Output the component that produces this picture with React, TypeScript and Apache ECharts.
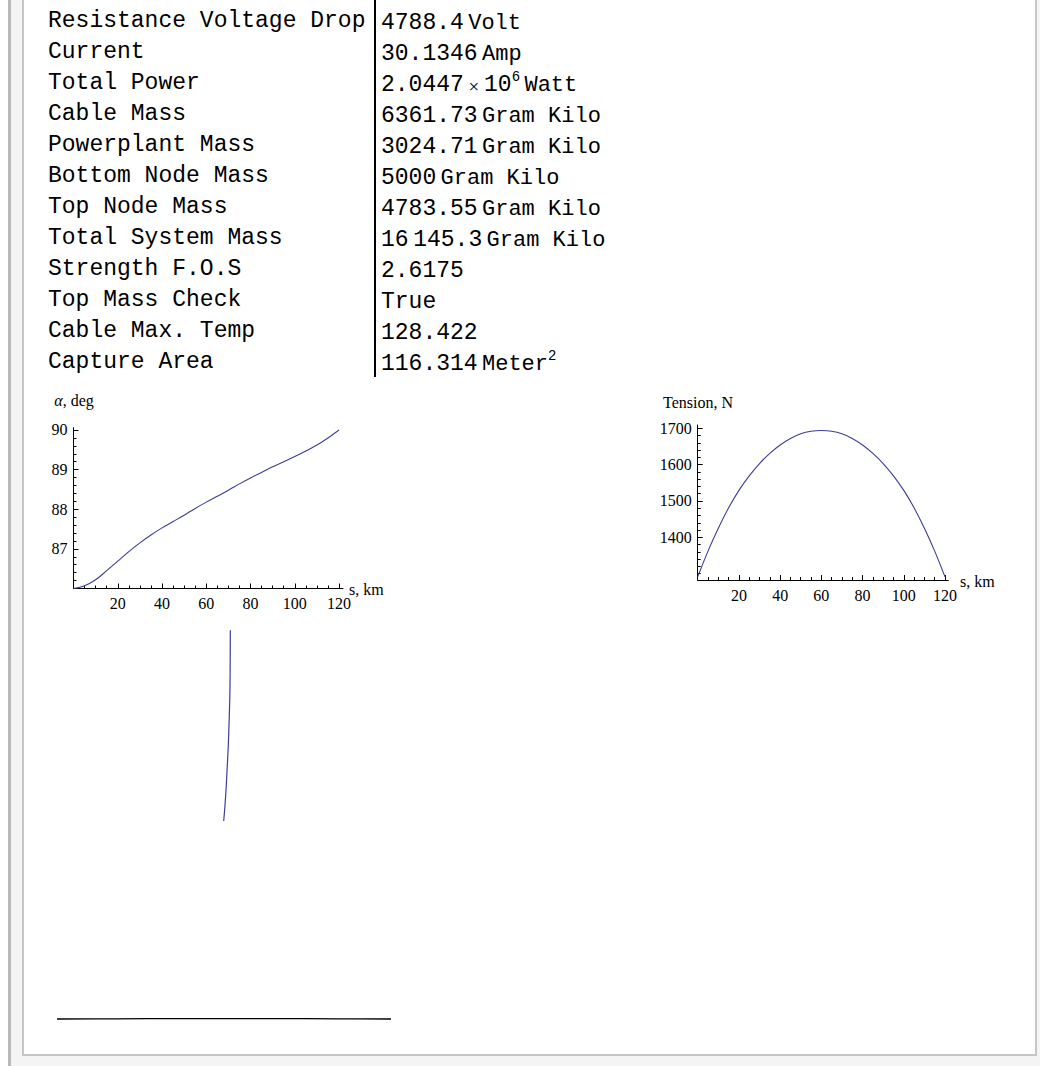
import React, { useEffect, useRef } from "react";
import * as echarts from "echarts";

// ---------- data ----------
const rowLabels = [
  "Resistance Voltage Drop",
  "Current",
  "Total Power",
  "Cable Mass",
  "Powerplant Mass",
  "Bottom Node Mass",
  "Top Node Mass",
  "Total System Mass",
  "Strength F.O.S",
  "Top Mass Check",
  "Cable Max. Temp",
  "Capture Area",
];
const rowNumbers = [
  "4788.4",
  "30.1346",
  "2.0447",
  "6361.73",
  "3024.71",
  "5000",
  "4783.55",
  "16\u2009145.3",
  "2.6175",
  "True",
  "128.422",
  "116.314",
];
const rowMantissaExp = ["", "", "6", "", "", "", "", "", "", "", "", ""];
const rowUnits = [
  "Volt",
  "Amp",
  "Watt",
  "Gram Kilo",
  "Gram Kilo",
  "Gram Kilo",
  "Gram Kilo",
  "Gram Kilo",
  "",
  "",
  "",
  "Meter",
];
const rowUnitExp = ["", "", "", "", "", "", "", "", "", "", "", "2"];

const sKm = [0, 5, 10, 15, 20, 25, 30, 35, 40, 45, 50, 55, 60, 65, 70, 75, 80, 85, 90, 95, 100, 105, 110, 115, 120];
const alphaDeg = [
  86.0, 86.07, 86.22, 86.45, 86.69, 86.93, 87.15, 87.35, 87.53, 87.69, 87.85, 88.02, 88.18,
  88.33, 88.48, 88.64, 88.79, 88.93, 89.07, 89.2, 89.33, 89.47, 89.62, 89.8, 90.0,
];
const tensionN = [
  1291, 1362, 1425, 1481, 1529, 1569, 1603, 1631, 1654, 1672, 1685, 1692, 1694,
  1692, 1685, 1672, 1654, 1631, 1603, 1569, 1529, 1481, 1425, 1362, 1291,
];

const sMajorTicks = [20, 40, 60, 80, 100, 120];
const sMinorTicks = [5, 10, 15, 25, 30, 35, 45, 50, 55, 65, 70, 75, 85, 90, 95, 105, 110, 115];
const alphaMajorTicks = [87, 88, 89, 90];
const alphaMinorTicks = [86.2, 86.4, 86.6, 86.8, 87.2, 87.4, 87.6, 87.8, 88.2, 88.4, 88.6, 88.8, 89.2, 89.4, 89.6, 89.8];
const tensionMajorTicks = [1400, 1500, 1600, 1700];
const tensionMinorTicks = [
  1300, 1320, 1340, 1360, 1380, 1420, 1440, 1460, 1480, 1520, 1540, 1560, 1580, 1620, 1640, 1660, 1680,
];

// lone unlabeled curve (unitless sample values)
const loneCurveX = [3.7, 5.0, 6.3, 7.3, 8.3, 9.0, 9.6, 10.0, 10.2, 10.3];
const loneCurveY = [0, 15.7, 35.7, 55.7, 75.7, 95.7, 115.7, 135.7, 160.7, 190.7];
// flat black curve at the bottom (unitless sample values)
const flatCurveX = [0, 60, 120, 170, 220, 280, 334];
const flatCurveY = [4.0, 4.2, 4.4, 4.45, 4.4, 4.2, 4.0];

// ---------- styles ----------
const MONO = "'Liberation Mono', 'Courier New', monospace";
const SERIF = "'Liberation Serif', 'Times New Roman', serif";
const CURVE = "#3c3c9c";
const TABLE = { labelX: 48, valueX: 381, dividerX: 375, rowY0: 21, rowStep: 31, fontSize: 23 };
const TICK_FONT = 16;

function zip(a: number[], b: number[]) {
  return a.map((v, i) => [v, b[i]]);
}

function majorAxis(gridIndex: number, min: number, max: number, ticks: number[], isX: boolean) {
  return {
    type: "value",
    gridIndex,
    min,
    max,
    position: isX ? "bottom" : "left",
    axisLine: { show: true, onZero: false, lineStyle: { color: "#000", width: 1 } },
    axisTick: { show: true, inside: true, length: 5, customValues: ticks, lineStyle: { color: "#000", width: 1 } },
    axisLabel: {
      show: true,
      customValues: ticks,
      color: "#000",
      fontFamily: SERIF,
      fontSize: TICK_FONT,
      margin: isX ? 7 : 6,
      formatter: (v: number) => String(v),
    },
    splitLine: { show: false },
  };
}
function minorAxis(gridIndex: number, min: number, max: number, ticks: number[], isX: boolean) {
  return {
    type: "value",
    gridIndex,
    min,
    max,
    position: isX ? "bottom" : "left",
    axisLine: { show: false, onZero: false },
    axisTick: { show: true, inside: true, length: 3, customValues: ticks, lineStyle: { color: "#000", width: 1 } },
    axisLabel: { show: false },
    splitLine: { show: false },
  };
}
function hiddenAxis(gridIndex: number, min: number, max: number) {
  return {
    type: "value",
    gridIndex,
    min,
    max,
    show: false,
    axisLine: { show: false },
    axisTick: { show: false },
    axisLabel: { show: false },
    splitLine: { show: false },
  };
}

export default function App() {
  const ref = useRef<HTMLDivElement>(null);
  useEffect(() => {
    document.body.style.margin = "0";
    if (!ref.current) return;
    const chart = echarts.init(ref.current, undefined, { renderer: "svg" });

    const tableGraphics: any[] = [];
    rowLabels.forEach((t, i) => {
      tableGraphics.push({
        type: "text",
        x: TABLE.labelX,
        y: TABLE.rowY0 + i * TABLE.rowStep,
        style: { text: t, font: `${TABLE.fontSize}px ${MONO}`, fill: "#000", verticalAlign: "middle" },
      });
      let rich = `{m|${rowNumbers[i]}}`;
      if (rowMantissaExp[i]) rich += `{x| \u00d7 }{m|10}{s|${rowMantissaExp[i]}}`;
      if (rowUnits[i]) rich += `{u|\u2009${rowUnits[i]}}`;
      if (rowUnitExp[i]) rich += `{s|${rowUnitExp[i]}}`;
      tableGraphics.push({
        type: "text",
        x: TABLE.valueX,
        y: TABLE.rowY0 + i * TABLE.rowStep,
        style: {
          text: rich,
          verticalAlign: "middle",
          rich: {
            m: { fontFamily: MONO, fontSize: TABLE.fontSize, color: "#000", lineHeight: 26, verticalAlign: "bottom" },
            u: { fontFamily: MONO, fontSize: TABLE.fontSize - 1, color: "#000", lineHeight: 26, verticalAlign: "bottom" },
            x: { fontFamily: SERIF, fontSize: TABLE.fontSize - 4, color: "#000", lineHeight: 26, verticalAlign: "bottom" },
            s: { fontFamily: MONO, fontSize: 14, color: "#000", lineHeight: 14, verticalAlign: "top" },
          },
        },
      });
    });
    tableGraphics.push({
      type: "line",
      shape: {
        x1: TABLE.dividerX,
        y1: 0,
        x2: TABLE.dividerX,
        y2: TABLE.rowY0 + (rowLabels.length - 1) * TABLE.rowStep + 15,
      },
      style: { stroke: "#000", lineWidth: 2 },
    });

    const axisLabels: any[] = [
      {
        type: "text",
        x: 74,
        y: 400,
        style: {
          text: "{i|\u03b1}{n|, deg}",
          align: "center",
          verticalAlign: "middle",
          rich: {
            i: { fontFamily: SERIF, fontStyle: "italic", fontSize: TICK_FONT, color: "#000" },
            n: { fontFamily: SERIF, fontSize: TICK_FONT, color: "#000" },
          },
        },
      },
      {
        type: "text",
        x: 698,
        y: 402,
        style: { text: "Tension, N", font: `${TICK_FONT}px ${SERIF}`, fill: "#000", align: "center", verticalAlign: "middle" },
      },
      {
        type: "text",
        x: 349,
        y: 589,
        style: { text: "s, km", font: `${TICK_FONT}px ${SERIF}`, fill: "#000", verticalAlign: "middle" },
      },
      {
        type: "text",
        x: 960,
        y: 581,
        style: { text: "s, km", font: `${TICK_FONT}px ${SERIF}`, fill: "#000", verticalAlign: "middle" },
      },
    ];

    chart.setOption({
      animation: false,
      backgroundColor: "transparent",
      grid: [
        { left: 73.5, top: 427.7, width: 269.5, height: 160.8 },
        { left: 697.7, top: 425, width: 250.6, height: 155 },
        { left: 220, top: 630, width: 12, height: 191 },
        { left: 57, top: 1015, width: 334, height: 8 },
      ],
      xAxis: [
        majorAxis(0, 0, 121.8, sMajorTicks, true),
        minorAxis(0, 0, 121.8, sMinorTicks, true),
        majorAxis(1, 0, 121.6, sMajorTicks, true),
        minorAxis(1, 0, 121.6, sMinorTicks, true),
        hiddenAxis(2, 0, 12),
        hiddenAxis(3, 0, 334),
      ],
      yAxis: [
        majorAxis(0, 86, 90.058, alphaMajorTicks, false),
        minorAxis(0, 86, 90.058, alphaMinorTicks, false),
        majorAxis(1, 1282.5, 1709, tensionMajorTicks, false),
        minorAxis(1, 1282.5, 1709, tensionMinorTicks, false),
        hiddenAxis(2, 0, 191),
        hiddenAxis(3, 0, 8),
      ],
      series: [
        {
          type: "line",
          xAxisIndex: 0,
          yAxisIndex: 0,
          data: zip(sKm, alphaDeg),
          smooth: 0.35,
          showSymbol: false,
          clip: false,
          lineStyle: { color: CURVE, width: 1.1 },
        },
        {
          type: "line",
          xAxisIndex: 2,
          yAxisIndex: 2,
          data: zip(sKm, tensionN),
          smooth: 0.35,
          showSymbol: false,
          clip: false,
          lineStyle: { color: CURVE, width: 1.1 },
        },
        {
          type: "line",
          xAxisIndex: 4,
          yAxisIndex: 4,
          data: zip(loneCurveX, loneCurveY),
          smooth: 0.35,
          showSymbol: false,
          clip: false,
          lineStyle: { color: CURVE, width: 1.2 },
        },
        {
          type: "line",
          xAxisIndex: 5,
          yAxisIndex: 5,
          data: zip(flatCurveX, flatCurveY),
          smooth: 0.35,
          showSymbol: false,
          clip: false,
          lineStyle: { color: "#000", width: 1.3 },
        },
      ],
      graphic: [...tableGraphics, ...axisLabels],
    });
    return () => chart.dispose();
  }, []);

  return (
    <div style={{ position: "relative", width: 1040, height: 1066, background: "#fff", overflow: "hidden" }}>
      <div style={{ position: "absolute", left: 8, top: 0, width: 3, height: 1066, background: "#b9b9b9" }} />
      <div style={{ position: "absolute", left: 11, top: 0, right: 0, bottom: 0, background: "#f4f4f4" }} />
      <div
        style={{
          position: "absolute",
          left: 22,
          top: 0,
          width: 1015,
          height: 1056,
          boxSizing: "border-box",
          background: "#fff",
          borderLeft: "2px solid #c6c6c6",
          borderRight: "2px solid #c6c6c6",
          borderBottom: "2px solid #c6c6c6",
        }}
      />
      <div ref={ref} style={{ position: "absolute", left: 0, top: 0, width: 1040, height: 1066 }} />
    </div>
  );
}
